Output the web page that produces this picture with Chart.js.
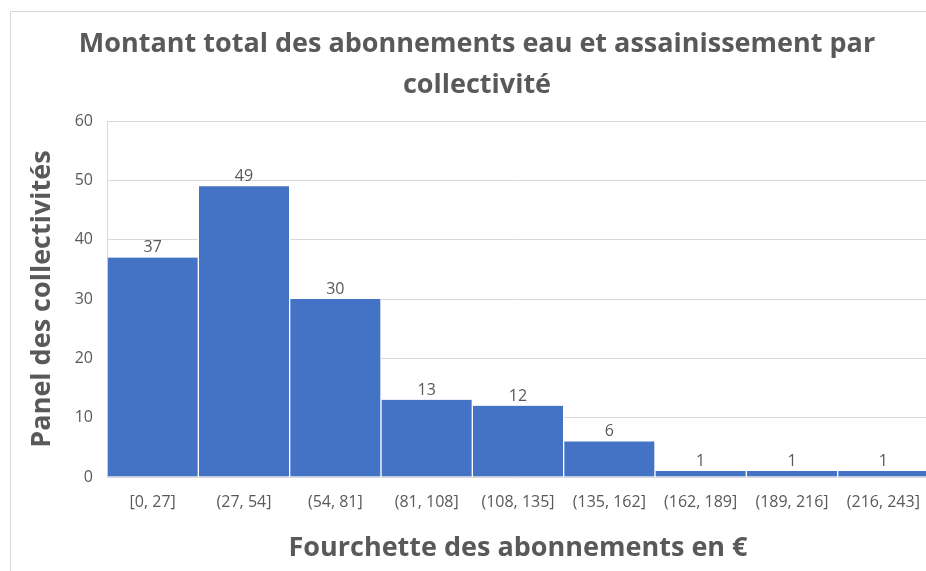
<!DOCTYPE html>
<html>
<head>
<meta charset="utf-8">
<script src="https://cdn.jsdelivr.net/npm/chart.js@4/dist/chart.umd.min.js"></script>
<style>
  html, body { margin: 0; padding: 0; background: #fff; overflow: hidden; width: 926px; height: 571px; }
  #frame { position: absolute; left: 10px; top: 11px; width: 960px; height: 600px; border-left: 1px solid #d9d9d9; border-top: 1px solid #d9d9d9; }
  #wrap { position: absolute; left: 0; top: 0; width: 954px; height: 571px; }
</style>
</head>
<body>
<div id="frame"></div>
<div id="wrap"><canvas id="c" width="954" height="571"></canvas></div>
<script>
const titleLines = ["Montant total des abonnements eau et assainissement par", "collectivité"];
const xAxisTitle = "Fourchette des abonnements en €";
const yAxisTitle = "Panel des collectivités";
const categories = ["[0, 27]", "(27, 54]", "(54, 81]", "(81, 108]", "(108, 135]", "(135, 162]", "(162, 189]", "(189, 216]", "(216, 243]"];
const counts = [37, 49, 30, 13, 12, 6, 1, 1, 1];
const yTicks = [0, 10, 20, 30, 40, 50, 60];

const FONT = "'Open Sans', 'Noto Sans', sans-serif";
const TEXT = "#595959";

const barLabels = {
  id: 'barLabels',
  afterDatasetsDraw(chart) {
    const ctx = chart.ctx;
    const meta = chart.getDatasetMeta(0);
    ctx.save();
    ctx.font = "16px " + FONT;
    ctx.fillStyle = TEXT;
    ctx.textAlign = 'center';
    ctx.textBaseline = 'alphabetic';
    meta.data.forEach((bar, i) => {
      ctx.fillText(String(counts[i]), bar.x, bar.y - 5);
    });
    ctx.restore();
  }
};

new Chart(document.getElementById('c'), {
  type: 'bar',
  data: {
    labels: categories,
    datasets: [{
      data: counts,
      backgroundColor: '#4472C4',
      borderColor: '#ffffff',
      borderWidth: { left: 1, right: 1, top: 0, bottom: 0 },
      borderSkipped: false,
      categoryPercentage: 1.0,
      barPercentage: 1.0
    }]
  },
  options: {
    responsive: false,
    animation: false,
    layout: { padding: { left: 0, right: 0, top: 0, bottom: 0 } },
    plugins: {
      legend: { display: false },
      tooltip: { enabled: false },
      title: {
        display: true,
        text: titleLines,
        color: TEXT,
        font: { family: FONT, size: 27, weight: 'bold', lineHeight: 41 / 27 },
        padding: { top: 23.5, bottom: 15.5 }
      }
    },
    scales: {
      x: {
        grid: { display: false, drawTicks: false },
        border: { display: true, color: '#d9d9d9' },
        ticks: { color: TEXT, font: { family: FONT, size: 16 }, padding: 16, maxRotation: 0, autoSkip: false },
        title: {
          display: true, text: xAxisTitle, color: TEXT,
          font: { family: FONT, size: 27, weight: 'bold', lineHeight: 1.2 },
          padding: { top: 0, bottom: 6.8 }
        },
        afterFit(scale) { scale.height = 94; }
      },
      y: {
        min: 0, max: 60,
        afterBuildTicks(scale) { scale.ticks = yTicks.map(v => ({ value: v })); },
        grid: { color: '#d9d9d9', drawTicks: false },
        border: { display: true, color: '#d9d9d9' },
        ticks: { color: TEXT, font: { family: FONT, size: 16 }, padding: 14 },
        title: {
          display: true, text: yAxisTitle, color: TEXT,
          font: { family: FONT, size: 27, weight: 'bold', lineHeight: 1.2 },
          padding: { top: 25.8, bottom: 0 }
        },
        afterFit(scale) { scale.width = 107; }
      },
      yRight: {
        position: 'right',
        display: true,
        grid: { display: false, drawTicks: false },
        border: { display: false },
        ticks: { display: false },
        afterFit(scale) { scale.width = 25; }
      }
    }
  },
  plugins: [barLabels]
});
</script>
</body>
</html>
